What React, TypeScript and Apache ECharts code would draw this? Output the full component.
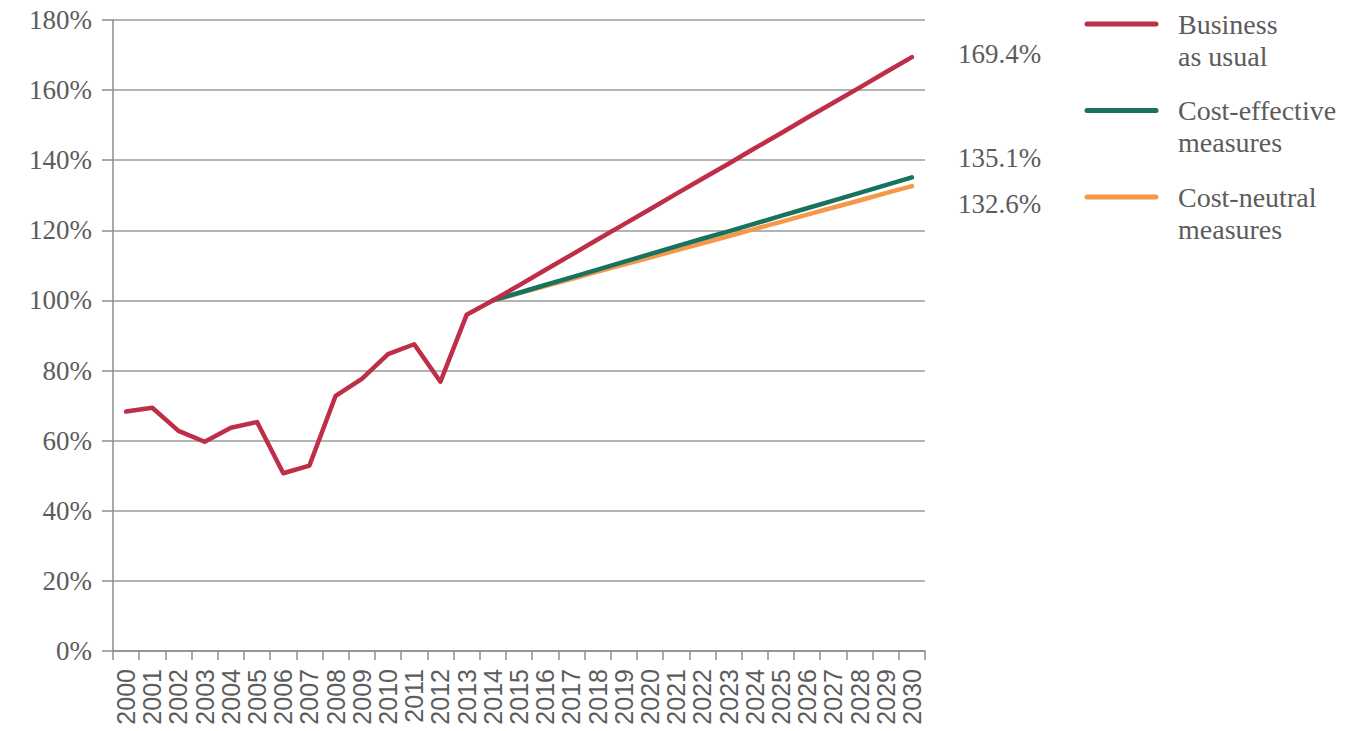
import React, { useEffect, useRef } from "react";
import * as echarts from "echarts";

// Years on the horizontal axis
const years: string[] = [
  "2000", "2001", "2002", "2003", "2004", "2005", "2006", "2007", "2008", "2009",
  "2010", "2011", "2012", "2013", "2014", "2015", "2016", "2017", "2018", "2019",
  "2020", "2021", "2022", "2023", "2024", "2025", "2026", "2027", "2028", "2029", "2030",
];

// Index values (% of 2014)
const businessAsUsual: (number | null)[] = [
  68.3, 69.4, 62.8, 59.7, 63.7, 65.3, 50.7, 52.9, 72.8, 77.6,
  84.7, 87.5, 76.8, 95.9, 100, 104.3, 108.7, 113.0, 117.4, 121.7,
  126.0, 130.4, 134.7, 139.0, 143.4, 147.7, 152.1, 156.4, 160.7, 165.1, 169.4,
];
const costEffective: (number | null)[] = [
  null, null, null, null, null, null, null, null, null, null,
  null, null, null, null, 100, 102.2, 104.4, 106.6, 108.8, 111.0,
  113.2, 115.4, 117.6, 119.7, 121.9, 124.1, 126.3, 128.5, 130.7, 132.9, 135.1,
];
const costNeutral: (number | null)[] = [
  null, null, null, null, null, null, null, null, null, null,
  null, null, null, null, 100, 102.0, 104.1, 106.1, 108.2, 110.2,
  112.2, 114.3, 116.3, 118.3, 120.4, 122.4, 124.5, 126.5, 128.5, 130.6, 132.6,
];

const seriesNames: string[] = ["Business as usual", "Cost-effective measures", "Cost-neutral measures"];
const legendLabels: string[] = ["Business\nas usual", "Cost-effective\nmeasures", "Cost-neutral\nmeasures"];
const seriesColors: string[] = ["#BE2E48", "#17735E", "#F5984A"];
const endLabelShift: number[] = [-3, -19, 18];

const SERIF = "'Liberation Serif', 'DejaVu Serif', serif";
const SANS = "'Liberation Sans', 'DejaVu Sans', sans-serif";
const TEXT = "#5c5c5c";

export default function App() {
  const ref = useRef<HTMLDivElement>(null);

  useEffect(() => {
    if (!ref.current) return;
    const chart = echarts.init(ref.current, undefined, { renderer: "svg" });

    const values = [businessAsUsual, costEffective, costNeutral];
    const series = [2, 1, 0].map((i) => ({
      name: seriesNames[i],
      type: "line",
      data: values[i],
      z: 10 - i,
      symbol: "none",
      connectNulls: false,
      lineStyle: { color: seriesColors[i], width: 4.5, cap: "round", join: "round" },
      itemStyle: { color: seriesColors[i] },
      endLabel: {
        show: true,
        distance: 46,
        offset: [0, endLabelShift[i]],
        fontFamily: SERIF,
        fontSize: 27,
        color: TEXT,
        formatter: (p: any) => `${Number(p.value).toFixed(1)}%`,
      },
    }));

    const legendGraphics: any[] = [];
    legendLabels.forEach((label, i) => {
      const cy = 24 + i * 86.5;
      legendGraphics.push({
        type: "line",
        shape: { x1: 1087, y1: cy, x2: 1156, y2: cy },
        style: { stroke: seriesColors[i], lineWidth: 5, lineCap: "round" },
      });
      legendGraphics.push({
        type: "text",
        x: 1178,
        y: cy - 16,
        style: {
          text: label,
          fontFamily: SERIF,
          fontSize: 28,
          lineHeight: 32,
          fill: TEXT,
          verticalAlign: "top",
          align: "left",
        },
      });
    });

    chart.setOption({
      animation: false,
      backgroundColor: "#ffffff",
      grid: {
        left: 113,
        right: 445,
        top: 20,
        bottom: 80,
        containLabel: false,
        outerBoundsMode: "none",
      },
      xAxis: {
        type: "category",
        data: years,
        boundaryGap: true,
        axisLine: { show: true, lineStyle: { color: "#8c8c8c", width: 1.5 } },
        axisTick: { show: true, length: 9, alignWithLabel: false, interval: 0, lineStyle: { color: "#8c8c8c", width: 1.5 } },
        axisLabel: {
          interval: 0,
          rotate: 90,
          margin: 18,
          fontFamily: SANS,
          fontSize: 25,
          color: TEXT,
        },
        splitLine: { show: false },
      },
      yAxis: {
        type: "value",
        min: 0,
        max: 180,
        interval: 20,
        axisLine: { show: true, lineStyle: { color: "#8c8c8c", width: 1.5 } },
        axisTick: { show: true, length: 11, inside: false, lineStyle: { color: "#8c8c8c", width: 1.5 } },
        axisLabel: {
          margin: 21,
          formatter: "{value}%",
          fontFamily: SERIF,
          fontSize: 27,
          color: TEXT,
        },
        splitLine: { show: true, lineStyle: { color: "#9a9a9a", width: 1.5 } },
      },
      series,
      graphic: legendGraphics,
    });

    return () => chart.dispose();
  }, []);

  return (
    <div
      ref={ref}
      style={{ position: "fixed", left: 0, top: 0, width: 1370, height: 731, background: "#fff" }}
    />
  );
}
